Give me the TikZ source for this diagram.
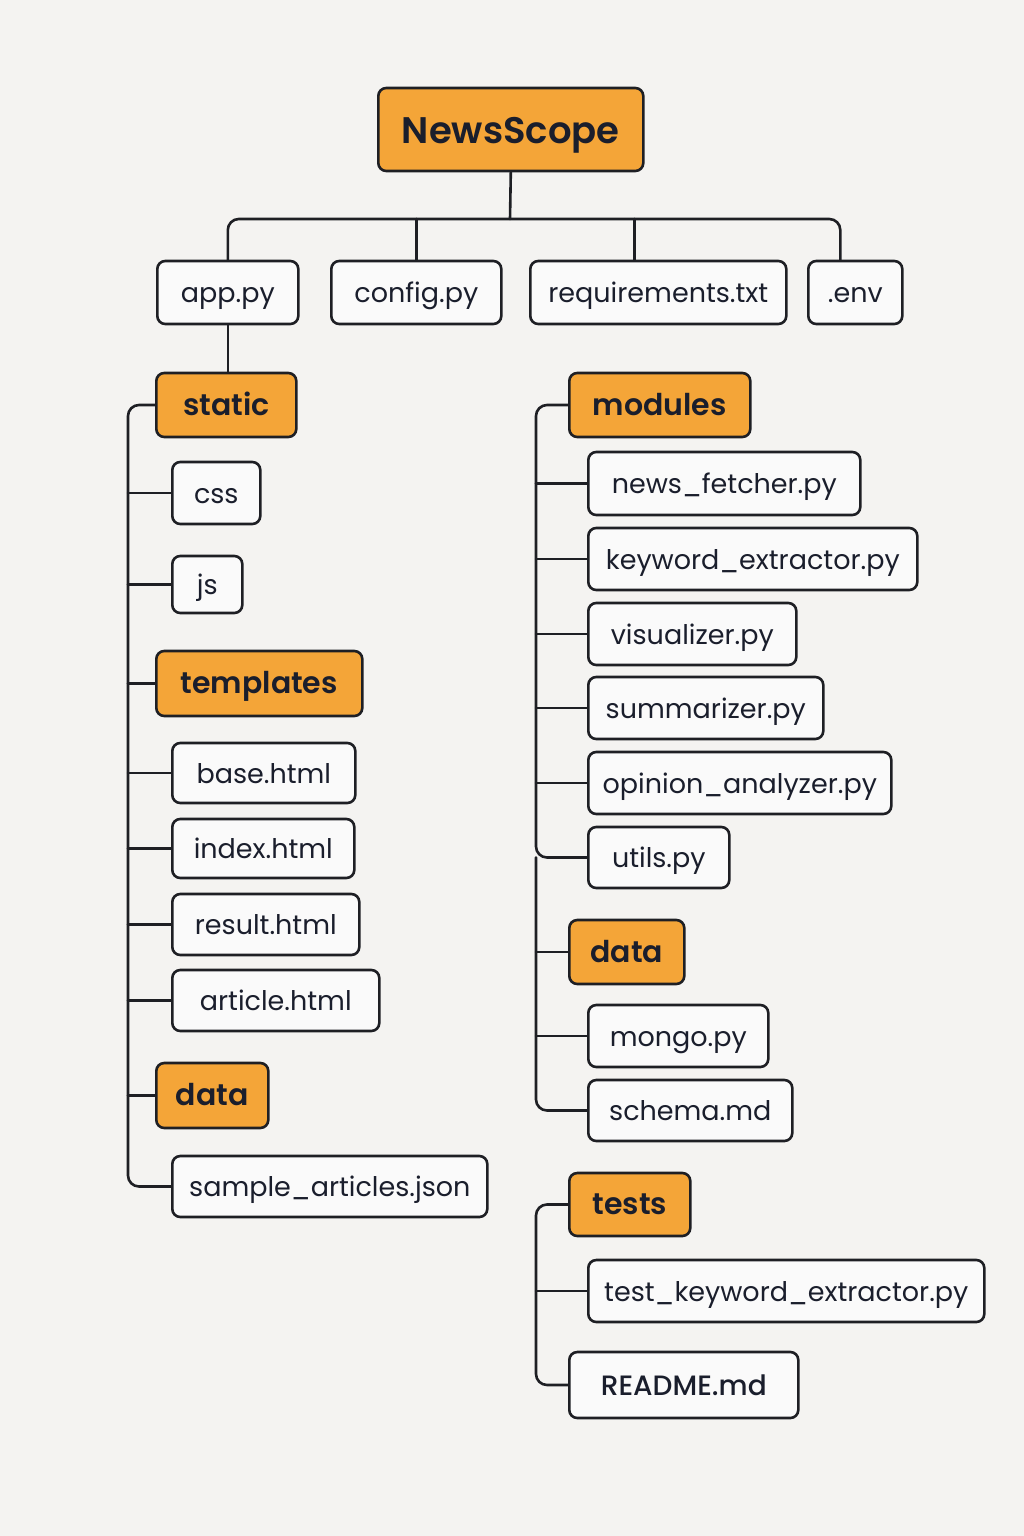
\documentclass[tikz,border=0pt]{standalone}
\usepackage{fontspec}
\setmainfont{Poppins}
\IfFontExistsTF{Poppins SemiBold}{\newfontfamily\semib{Poppins SemiBold}}{\newcommand\semib{\bfseries}}
\IfFontExistsTF{Poppins Medium}{\newfontfamily\medf{Poppins Medium}}{\newcommand\medf{\bfseries}}
\begin{document}
\begin{tikzpicture}[x=1pt,y=-1pt,
  conn/.style={line width=2.6pt, draw=lineC, rounded corners=11pt, line cap=round},
  filebox/.style={draw=lineC, line width=2.6pt, fill=boxC, rounded corners=8pt, anchor=west, text=textC, font=\fontsize{27}{30}\selectfont, inner sep=0pt, text height=20pt, text depth=0pt},
  dirbox/.style={draw=lineC, line width=2.6pt, fill=orangeC, rounded corners=8pt, anchor=west, text=textC, font=\fontsize{30}{34}\selectfont\semib, inner sep=0pt, text height=20pt, text depth=0pt}]
\definecolor{bgC}{HTML}{F4F3F1}
\definecolor{lineC}{HTML}{1E1F24}
\definecolor{boxC}{HTML}{FAFAFA}
\definecolor{orangeC}{HTML}{F4A538}
\definecolor{textC}{HTML}{1A1E2C}
\fill[bgC] (0,0) rectangle (1024,1536);
\useasboundingbox (0,0) rectangle (1024,1536);
% root
\node[dirbox, minimum width=265pt, minimum height=83pt, font=\fontsize{37}{40}\selectfont\semib, text height=27.6pt] (root) at (377,129.5) {NewsScope};
% top level files
\node[filebox, minimum width=141pt, minimum height=63pt] (app) at (156,292.5) {app.py};
\node[filebox, minimum width=170pt, minimum height=63pt] (config) at (330,292.5) {config.py};
\node[filebox, minimum width=256pt, minimum height=63pt] (req) at (529,292.5) {requirements.txt};
\node[filebox, minimum width=94pt, minimum height=63pt] (env) at (807,292.5) {.env};
\coordinate (bus) at (510,219);
\draw[conn] (app.north) |- (bus) -| ([xshift=-15pt]env.north);
\draw[conn] (root.south) -- (bus);
\draw[conn] (config.north) -- (config.north |- bus);
\draw[conn] ([xshift=-24pt]req.north) -- ([xshift=-24pt]req.north |- bus);
% left column
\node[dirbox, minimum width=140pt, minimum height=64pt] (static) at (155,405) {static};
\draw[conn] (app.south) -- (app.south |- static.north);
\node[filebox, minimum width=88pt, minimum height=62pt] (css) at (171,493) {css};
\node[filebox, minimum width=70pt, minimum height=57pt] (js) at (171,584.5) {js};
\node[dirbox, minimum width=206pt, minimum height=65pt] (templates) at (155,683.5) {templates};
\node[filebox, minimum width=183pt, minimum height=60pt] (base) at (171,773) {base.html};
\node[filebox, minimum width=182pt, minimum height=59pt] (index) at (171,848.5) {index.html};
\node[filebox, minimum width=187pt, minimum height=61pt] (result) at (171,924.5) {result.html};
\node[filebox, minimum width=207pt, minimum height=61pt] (article) at (171,1000.5) {article.html};
\node[dirbox, minimum width=112pt, minimum height=65pt] (ldata) at (155,1095.5) {data};
\node[filebox, minimum width=315pt, minimum height=61pt] (sample) at (171,1186.5) {sample\_articles.json};
\coordinate (Lx) at (128,0);
\draw[conn] (static.west) -| (Lx |- sample.west) -- (sample.west);
\foreach \n in {css,js,templates,base,index,result,article,ldata}
  \draw[conn] (\n.west) -- (\n.west -| Lx);
% right column
\node[dirbox, minimum width=181pt, minimum height=64pt] (modules) at (568,405) {modules};
\node[filebox, minimum width=272pt, minimum height=63pt] (fetch) at (587,483.5) {news\_fetcher.py};
\node[filebox, minimum width=329pt, minimum height=62pt] (kw) at (587,559) {keyword\_extractor.py};
\node[filebox, minimum width=208pt, minimum height=62pt] (vis) at (587,634) {visualizer.py};
\node[filebox, minimum width=235pt, minimum height=62pt] (summ) at (587,708) {summarizer.py};
\node[filebox, minimum width=303pt, minimum height=62pt] (op) at (587,783) {opinion\_analyzer.py};
\node[filebox, minimum width=141pt, minimum height=61pt] (utils) at (587,857.5) {utils.py};
\node[dirbox, minimum width=115pt, minimum height=64pt] (rdata) at (568,952) {data};
\node[filebox, minimum width=180pt, minimum height=62pt] (mongo) at (587,1036) {mongo.py};
\node[filebox, minimum width=204pt, minimum height=61pt] (schema) at (587,1110.5) {schema.md};
\coordinate (Rx) at (536,0);
\draw[conn] (modules.west) -| (Rx |- utils.west) -- (utils.west);
\draw[conn] (Rx |- utils.west) |- (schema.west);
\foreach \n in {fetch,kw,vis,summ,op,rdata,mongo}
  \draw[conn] (\n.west) -- (\n.west -| Rx);
% tests
\node[dirbox, minimum width=121pt, minimum height=63pt] (tests) at (568,1204.5) {tests};
\node[filebox, minimum width=396pt, minimum height=62pt] (tkw) at (587,1291) {test\_keyword\_extractor.py};
\node[filebox, minimum width=229pt, minimum height=66pt, font=\fontsize{28}{32}\selectfont\medf] (readme) at (568,1385) {README.md};
\draw[conn] (tests.west) -| (Rx |- readme.west) -- (readme.west);
\draw[conn] (tkw.west) -- (tkw.west -| Rx);
\end{tikzpicture}
\end{document}
